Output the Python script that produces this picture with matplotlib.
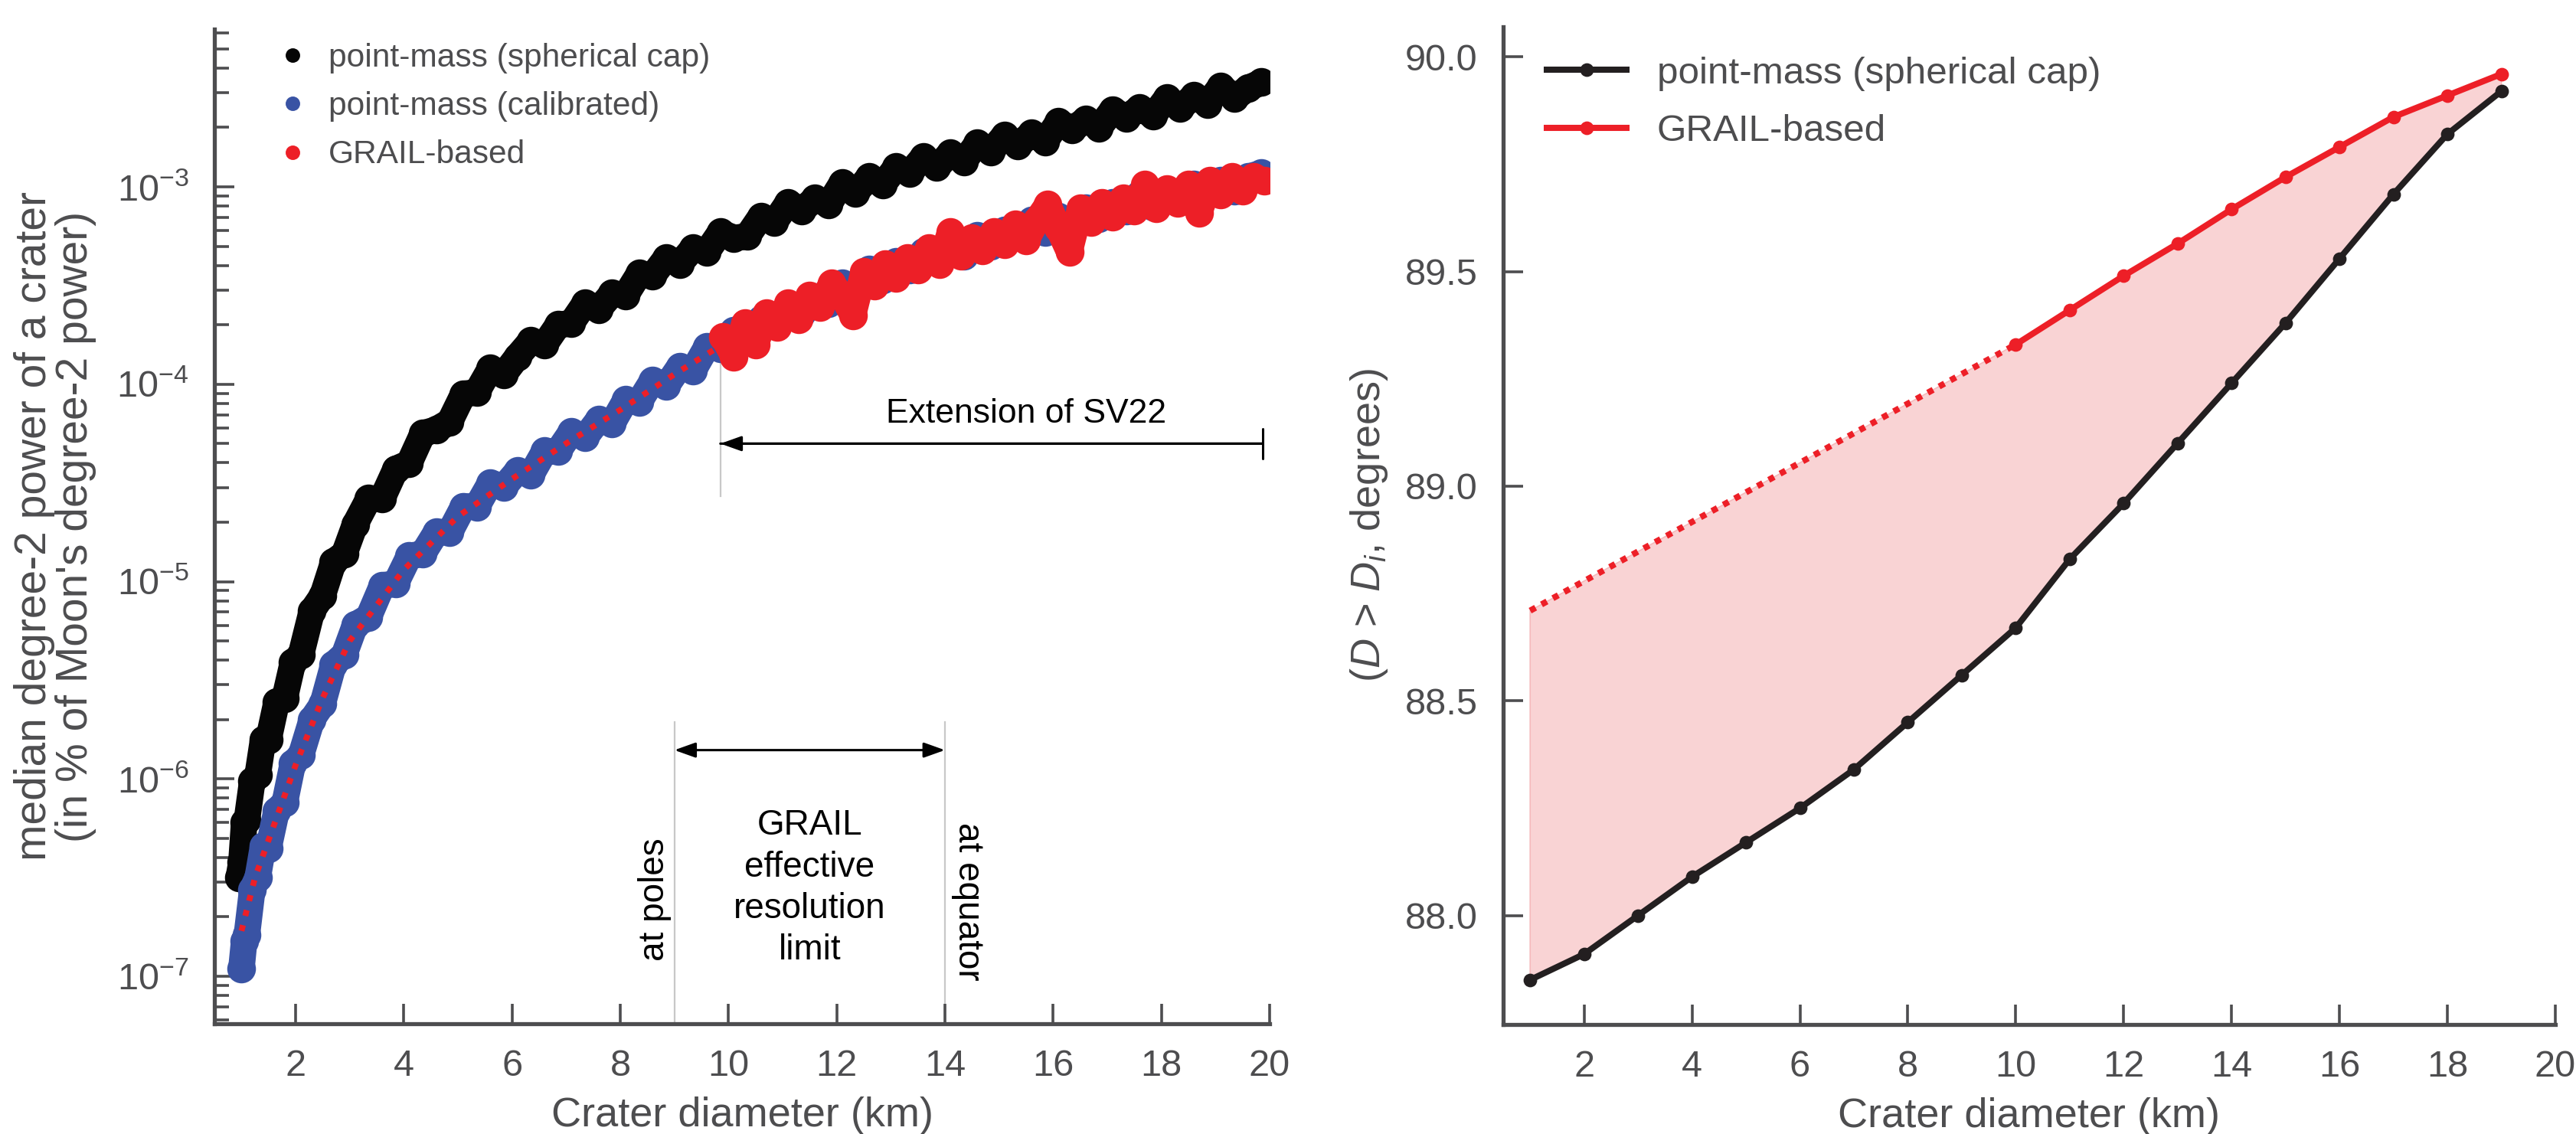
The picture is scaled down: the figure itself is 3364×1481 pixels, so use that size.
import numpy as np
import matplotlib
matplotlib.use("Agg")
import matplotlib.pyplot as plt
from matplotlib.ticker import LogLocator, NullFormatter
from matplotlib.lines import Line2D

plt.rcParams['font.family'] = ['Liberation Sans', 'DejaVu Sans']
plt.rcParams['mathtext.fontset'] = 'custom'
plt.rcParams['mathtext.rm'] = 'Liberation Sans'
plt.rcParams['mathtext.it'] = 'Liberation Sans:italic'
plt.rcParams['mathtext.default'] = 'regular'

# ---------------- data: left panel (log10 of median degree-2 power, % of Moon's) ----------------
black_x = [0.95, 1.0, 1.05, 1.1, 1.2, 1.3, 1.4, 1.5, 1.65, 1.8, 1.95, 2.1, 2.3, 2.5, 2.7, 2.9,
           3.1, 3.35, 3.6, 3.85, 4.1, 4.35, 4.6, 4.85, 5.1, 5.35, 5.6, 5.85, 6.1, 6.35, 6.6,
           6.85, 7.1, 7.35, 7.6, 7.85, 8.1, 8.35, 8.6, 8.85, 9.1, 9.35, 9.6, 9.85, 10.1, 10.35,
           10.6, 10.85, 11.1, 11.35, 11.6, 11.85, 12.1, 12.35, 12.6, 12.85, 13.1, 13.35, 13.6,
           13.85, 14.1, 14.35, 14.6, 14.85, 15.1, 15.35, 15.6, 15.85, 16.1, 16.35, 16.6, 16.85,
           17.1, 17.35, 17.6, 17.85, 18.1, 18.35, 18.6, 18.85, 19.1, 19.35, 19.6, 19.85]
black_log10 = [-6.50, -6.42, -6.22, -6.21, -6.01, -5.98, -5.80, -5.80, -5.61, -5.59,
               -5.41, -5.37, -5.15, -5.07, -4.90, -4.86, -4.71, -4.58, -4.58, -4.43,
               -4.40, -4.25, -4.23, -4.19, -4.05, -4.04, -3.92, -3.95, -3.86, -3.78,
               -3.80, -3.70, -3.69, -3.59, -3.62, -3.54, -3.55, -3.44, -3.45, -3.36,
               -3.39, -3.31, -3.33, -3.23, -3.26, -3.25, -3.15, -3.18, -3.08, -3.12,
               -3.06, -3.09, -2.98, -3.03, -2.95, -2.99, -2.90, -2.93, -2.85, -2.90,
               -2.83, -2.87, -2.78, -2.82, -2.74, -2.79, -2.73, -2.77, -2.67, -2.71,
               -2.66, -2.70, -2.61, -2.65, -2.60, -2.64, -2.55, -2.60, -2.54, -2.58,
               -2.49, -2.55, -2.50, -2.47]

blue_x = [1.0, 1.05, 1.1, 1.2, 1.3, 1.4, 1.5, 1.65, 1.8, 1.95, 2.1, 2.3, 2.5, 2.7, 2.9,
          3.1, 3.35, 3.6, 3.85, 4.1, 4.35, 4.6, 4.85, 5.1, 5.35, 5.6, 5.85, 6.1, 6.35, 6.6,
          6.85, 7.1, 7.35, 7.6, 7.85, 8.1, 8.35, 8.6, 8.85, 9.1, 9.35, 9.6, 9.85, 10.1, 10.35,
          10.6, 10.85, 11.1, 11.35, 11.6, 11.85, 12.1, 12.35, 12.6, 12.85, 13.1, 13.35, 13.6,
          13.85, 14.1, 14.35, 14.6, 14.85, 15.1, 15.35, 15.6, 15.85, 16.1, 16.35, 16.6, 16.85,
          17.1, 17.35, 17.6, 17.85, 18.1, 18.35, 18.6, 18.85, 19.1, 19.35, 19.6, 19.85]
blue_log10 = [-6.96, -6.82, -6.79, -6.56, -6.50, -6.34, -6.35, -6.16, -6.12, -5.92,
              -5.88, -5.70, -5.62, -5.42, -5.37, -5.22, -5.18, -5.02, -5.01, -4.87,
              -4.86, -4.75, -4.75, -4.62, -4.62, -4.50, -4.52, -4.44, -4.46, -4.34,
              -4.34, -4.24, -4.27, -4.18, -4.20, -4.08, -4.09, -3.98, -4.01, -3.91,
              -3.93, -3.81, -3.82, -3.73, -3.77, -3.67, -3.70, -3.60, -3.64, -3.56,
              -3.59, -3.49, -3.51, -3.42, -3.47, -3.38, -3.42, -3.33, -3.37, -3.30,
              -3.35, -3.25, -3.30, -3.22, -3.25, -3.17, -3.23, -3.15, -3.20, -3.11,
              -3.16, -3.08, -3.12, -3.04, -3.10, -3.02, -3.07, -2.99, -3.04, -2.97,
              -3.02, -2.95, -2.93]

fit_x = [1.0, 1.25, 1.5, 2.0, 2.5, 3.0, 4.0, 5.0, 6.0, 7.0, 8.0, 9.0, 10.0, 12.0, 14.0, 16.0, 18.0, 20.0]
fit_log10 = [-6.77, -6.50, -6.31, -5.93, -5.59, -5.30, -4.94, -4.67, -4.48, -4.30, -4.13, -3.95,
             -3.78, -3.53, -3.34, -3.19, -3.06, -2.95]

red_x = [9.9, 10.1, 10.3, 10.5, 10.7, 10.9, 11.1, 11.3, 11.5, 11.7, 11.9, 12.1, 12.3, 12.5,
         12.7, 12.9, 13.1, 13.3, 13.5, 13.7, 13.9, 14.1, 14.3, 14.5, 14.7, 14.9, 15.1, 15.3,
         15.5, 15.7, 15.9, 16.1, 16.3, 16.5, 16.7, 16.9, 17.1, 17.3, 17.5, 17.7, 17.9, 18.1,
         18.3, 18.5, 18.7, 18.9, 19.1, 19.3, 19.5, 19.7, 19.9]
red_log10 = [-3.76, -3.86, -3.69, -3.80, -3.64, -3.71, -3.59, -3.67, -3.55, -3.61, -3.49, -3.55,
             -3.65, -3.43, -3.50, -3.39, -3.46, -3.36, -3.42, -3.31, -3.39, -3.23, -3.35, -3.26,
             -3.32, -3.23, -3.29, -3.19, -3.27, -3.17, -3.09, -3.21, -3.33, -3.11, -3.18, -3.08,
             -3.15, -3.06, -3.12, -2.99, -3.11, -3.01, -3.08, -2.99, -3.13, -2.97, -3.04, -2.95,
             -3.02, -2.95, -2.97]

# annotation positions (km)
grail_poles_km = 9.0
grail_equator_km = 14.0
sv22_start_km = 9.85
sv22_end_km = 19.87

# ---------------- data: right panel ----------------
cap_x = list(range(1, 20))
cap_deg = [87.85, 87.91, 88.00, 88.09, 88.17, 88.25, 88.34, 88.45, 88.56, 88.67, 88.83, 88.96,
           89.10, 89.24, 89.38, 89.53, 89.68, 89.82, 89.92]
grail_x = list(range(10, 20))
grail_deg = [89.33, 89.41, 89.49, 89.565, 89.645, 89.72, 89.79, 89.86, 89.91, 89.96]
extrap_x = [1, 10]
extrap_deg = [88.71, 89.33]

# ---------------- style ----------------
GRAY = '#4d4d4f'
BLACK = '#060606'
BLUE = '#3953a4'
RED = '#ed1f27'
PINK = '#f9d3d4'
LINEBLACK = '#231f20'

W, H, DPI = 3364, 1481, 200
fig = plt.figure(figsize=(W / DPI, H / DPI), dpi=DPI)

def px_axes(x0, y0, x1, y1):
    return fig.add_axes([x0 / W, 1 - y1 / H, (x1 - x0) / W, (y1 - y0) / H])

ax1 = px_axes(280, 38, 1658, 1337)
ax2 = px_axes(1963, 35, 3337, 1338)

for ax in (ax1, ax2):
    for s in ('top', 'right'):
        ax.spines[s].set_visible(False)
    for s in ('left', 'bottom'):
        ax.spines[s].set_color(GRAY)
        ax.spines[s].set_linewidth(1.9)
    ax.tick_params(which='major', direction='in', length=9.5, width=1.3, color=GRAY,
                   labelcolor=GRAY, labelsize=17.5, pad=12)
    ax.tick_params(which='minor', direction='in', length=6.8, width=1.3, color=GRAY)

# ---- left panel ----
ax1.set_yscale('log')
ax1.set_xlim(0.5, 20)
ax1.set_ylim(5.75e-8, 6.3e-3)
ax1.set_xticks([2, 4, 6, 8, 10, 12, 14, 16, 18, 20])
ax1.yaxis.set_major_locator(LogLocator(base=10, numticks=20))
ax1.yaxis.set_minor_locator(LogLocator(base=10, subs=np.arange(2, 10), numticks=20))
ax1.yaxis.set_minor_formatter(NullFormatter())

band_kw = dict(lw=12.5, marker='o', ms=12.5, solid_joinstyle='round', solid_capstyle='round')
ax1.plot(black_x, 10 ** np.array(black_log10), color=BLACK, zorder=3, **band_kw)
ax1.plot(blue_x, 10 ** np.array(blue_log10), color=BLUE, zorder=3, **band_kw)
ax1.plot(fit_x, 10 ** np.array(fit_log10), color=RED, lw=2.8, ls=(0, (1.0, 1.6)), zorder=4)
ax1.plot(red_x, 10 ** np.array(red_log10), color=RED, zorder=5, **band_kw)

ymin = ax1.get_ylim()[0]
gl = dict(color='#c8c8c8', lw=0.8, zorder=1)
ax1.plot([grail_poles_km, grail_poles_km], [ymin, 1.95e-6], **gl)
ax1.plot([grail_equator_km, grail_equator_km], [ymin, 1.95e-6], **gl)
ax1.plot([sv22_start_km, sv22_start_km], [2.7e-5, 1.7e-4], **gl)

ax1.annotate('', xy=(grail_poles_km, 1.4e-6), xytext=(grail_equator_km, 1.4e-6),
             arrowprops=dict(arrowstyle='<|-|>,head_length=0.42,head_width=0.15',
                             color='black', lw=1.1, shrinkA=0, shrinkB=0, mutation_scale=20))
ax1.annotate('', xy=(sv22_start_km, 5.0e-5), xytext=(sv22_end_km, 5.0e-5),
             arrowprops=dict(arrowstyle='-|>,head_length=0.42,head_width=0.15',
                             color='black', lw=1.1, shrinkA=0, shrinkB=0, mutation_scale=20))
ax1.annotate('', xy=(sv22_start_km, 5.0e-5), xytext=(sv22_end_km, 5.0e-5),
             arrowprops=dict(arrowstyle='|-|,widthA=0.35,widthB=0.0',
                             color='black', lw=1.1, shrinkA=0, shrinkB=0, mutation_scale=20))
ax1.text(15.5, 7.1e-5, 'Extension of SV22', ha='center', va='center', fontsize=16, color='black')
ax1.text(11.5, 2.8e-7, 'GRAIL\neffective\nresolution\nlimit', ha='center', va='center',
         fontsize=16.5, color='black', linespacing=1.3)
ax1.text(8.64, 2.46e-7, 'at poles', rotation=90, ha='center', va='center', fontsize=16.5,
         color='black')
ax1.text(14.42, 2.4e-7, 'at equator', rotation=-90, ha='center', va='center', fontsize=16.5,
         color='black')

ax1.set_xlabel('Crater diameter (km)', fontsize=19.5, color=GRAY, labelpad=6)
ax1.set_ylabel("median degree-2 power of a crater\n(in % of Moon's degree-2 power)",
               fontsize=20.5, color=GRAY, linespacing=1.0)
ax1.yaxis.set_label_coords(-0.112, 0.5)

h1 = [Line2D([], [], ls='none', marker='o', ms=5.8, color=c) for c in (BLACK, BLUE, RED)]
leg1 = ax1.legend(h1, ['point-mass (spherical cap)', 'point-mass (calibrated)', 'GRAIL-based'],
                  loc='upper left', bbox_to_anchor=(0.04, 1.006), frameon=False, fontsize=15.3,
                  handlelength=1.0, handletextpad=0.6, labelspacing=0.55, borderaxespad=0.2)
for t in leg1.get_texts():
    t.set_color(GRAY)

# ---- right panel ----
ax2.set_xlim(0.5, 20)
ax2.set_ylim(87.746, 90.07)
ax2.set_xticks([2, 4, 6, 8, 10, 12, 14, 16, 18, 20])
ax2.set_yticks([88.0, 88.5, 89.0, 89.5, 90.0])
ax2.set_yticklabels(['88.0', '88.5', '89.0', '89.5', '90.0'])

upper_x = extrap_x[:1] + grail_x
upper_y = extrap_deg[:1] + grail_deg
poly_x = list(cap_x) + upper_x[::-1]
poly_y = list(cap_deg) + upper_y[::-1]
ax2.fill(poly_x, poly_y, facecolor=PINK, edgecolor='#f5b9bb', lw=0.6, zorder=1)
ax2.plot(extrap_x, extrap_deg, color=RED, lw=2.9, ls=(0, (1.0, 1.1)), zorder=2)
ax2.plot(grail_x, grail_deg, '-o', color=RED, lw=2.9, ms=5.4, zorder=3, label='GRAIL-based')
ax2.plot(cap_x, cap_deg, '-o', color=LINEBLACK, lw=2.9, ms=5.4, zorder=4,
         label='point-mass (spherical cap)')

ax2.set_xlabel('Crater diameter (km)', fontsize=19.5, color=GRAY, labelpad=6)
ax2.set_ylabel(r'($\mathit{D}$ > $\mathit{D_i}$, degrees)', fontsize=19.5, color=GRAY)
ax2.yaxis.set_label_coords(-0.108, 0.5)

hh, ll = ax2.get_legend_handles_labels()
leg2 = ax2.legend(hh[::-1], ll[::-1], loc='upper left', bbox_to_anchor=(0.02, 0.993),
                  frameon=False, fontsize=17.8, handlelength=2.1, handletextpad=0.8,
                  labelspacing=0.62, borderaxespad=0.2)
for t in leg2.get_texts():
    t.set_color(GRAY)

fig.savefig('out.png', dpi=DPI)
